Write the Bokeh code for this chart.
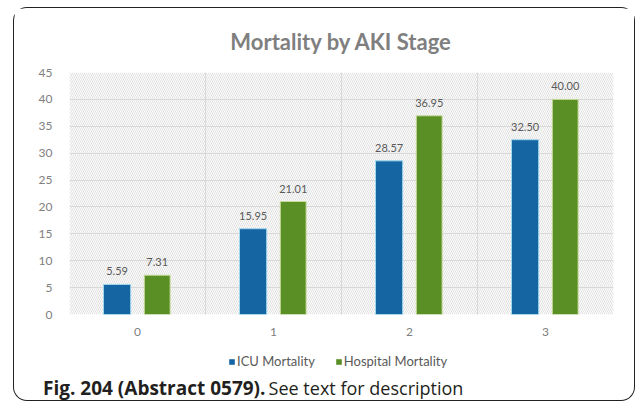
from bokeh.plotting import figure
from bokeh.layouts import column
from bokeh.models import (ColumnDataSource, Range1d, FixedTicker, LabelSet, Div,
                          Legend, LegendItem, BoxAnnotation)
from bokeh.core.properties import value
from bokeh.transform import dodge
from bokeh.embed import file_html
from bokeh.resources import INLINE

stages = [0, 1, 2, 3]
stage_labels = ["0", "1", "2", "3"]
icu_mortality = [5.59, 15.95, 28.57, 32.50]
hospital_mortality = [7.31, 21.01, 36.95, 40.00]
y_ticks = [0, 5, 10, 15, 20, 25, 30, 35, 40, 45]
series_names = ["ICU Mortality", "Hospital Mortality"]
caption_bold = "Fig. 204 (Abstract 0579)."
caption_text = "See text for description"

ICU_COLOR, ICU_EDGE = "#1665a3", "#9fd8ee"
HOSP_COLOR, HOSP_EDGE = "#5a8f26", "#c8dc9c"

src = ColumnDataSource(dict(
    x=stages,
    icu=icu_mortality,
    hosp=hospital_mortality,
    icu_txt=["%.2f" % v for v in icu_mortality],
    hosp_txt=["%.2f" % v for v in hospital_mortality],
))

FONT = "Lato"
W = 622
BORDER = "1.5px solid #222"
SHIFT = "translate(13px, 7px)"

p = figure(width=W, height=340, output_backend="svg", toolbar_location=None,
           x_range=Range1d(-0.5, 3.5), y_range=Range1d(0, 45),
           min_border_left=55, min_border_right=23, min_border_top=62,
           min_border_bottom=34, title="Mortality by AKI Stage")
p.styles = {"border": BORDER, "border-bottom": "none",
            "border-radius": "14px 14px 0 0", "transform": SHIFT}
p.outline_line_color = None

p.title.align = "center"
p.title.text_font = FONT
p.title.text_font_size = "22px"
p.title.text_font_style = "bold"
p.title.text_color = "#7f7f7f"
p.title.standoff = 35

# hatched plot background
p.add_layout(BoxAnnotation(fill_alpha=0, line_color=None, hatch_pattern="\\",
                           hatch_color="#d8d8d8", hatch_scale=4, hatch_weight=0.8,
                           level="underlay"))

p.xgrid.ticker = FixedTicker(ticks=[-0.5, 0.5, 1.5, 2.5, 3.5])
p.ygrid.ticker = FixedTicker(ticks=y_ticks)
for g in (p.xgrid, p.ygrid):
    g.grid_line_color = "#d9d9d9"
    g.grid_line_width = 1

p.xaxis.ticker = FixedTicker(ticks=stages)
p.xaxis.major_label_overrides = {s: l for s, l in zip(stages, stage_labels)}
p.yaxis.ticker = FixedTicker(ticks=y_ticks)
for ax in (p.xaxis, p.yaxis):
    ax.axis_line_color = None
    ax.major_tick_line_color = None
    ax.minor_tick_line_color = None
    ax.major_label_text_font = FONT
    ax.major_label_text_font_size = "12px"
    ax.major_label_text_color = "#808080"
p.yaxis.major_label_standoff = 11
p.xaxis.major_label_standoff = 7

p.vbar(x=dodge("x", -0.15, range=p.x_range), top="icu", width=0.2, source=src,
       fill_color=ICU_COLOR, line_color=ICU_EDGE, line_width=1)
p.vbar(x=dodge("x", 0.145, range=p.x_range), top="hosp", width=0.19, source=src,
       fill_color=HOSP_COLOR, line_color=HOSP_EDGE, line_width=1)

for col, txt, off in (("icu", "icu_txt", -0.15), ("hosp", "hosp_txt", 0.145)):
    p.add_layout(LabelSet(x=dodge("x", off, range=p.x_range), y=col, text=txt,
                          source=src, text_align="center", text_baseline="alphabetic",
                          y_offset=9, text_font=value(FONT), text_font_size="11px",
                          text_color="#595959"))

# footer row holding the legend
foot = figure(width=W, height=28, output_backend="svg", toolbar_location=None,
              x_range=Range1d(-0.5, 3.5), y_range=Range1d(0, 45), min_border=0,
              x_axis_type=None, y_axis_type=None)
foot.styles = {"border-left": BORDER, "border-right": BORDER, "transform": SHIFT}
foot.outline_line_color = None
foot.xgrid.visible = False
foot.ygrid.visible = False

k1 = foot.vbar(x="x", top="icu", width=0.2, source=src, fill_color=ICU_COLOR,
               line_color=None, visible=False)
k2 = foot.vbar(x="x", top="hosp", width=0.2, source=src, fill_color=HOSP_COLOR,
               line_color=None, visible=False)

legend = Legend(items=[LegendItem(label=series_names[0], renderers=[k1]),
                       LegendItem(label=series_names[1], renderers=[k2])],
                orientation="horizontal", location=(159, 6),
                border_line_color=None, background_fill_alpha=0,
                inactive_fill_alpha=0,
                glyph_width=7, glyph_height=7, label_standoff=2, spacing=20,
                padding=0, margin=0, label_text_font=FONT,
                label_text_font_size="13px", label_text_color="#595959")
foot.add_layout(legend, "center")

caption = Div(
    text=('<div style="font-family:\'Open Sans\';color:#231f20;line-height:22px;'
          'padding:2px 0 0 16px;text-indent:13px;white-space:nowrap;">'
          '<span style="font-weight:bold;font-size:19px;">%s</span> '
          '<span style="font-size:18px;">%s</span></div>') % (caption_bold, caption_text),
    width=W, height=26, margin=0,
    styles={"border": BORDER, "border-top": "none",
            "border-radius": "0 0 14px 14px", "transform": SHIFT,
            "box-sizing": "border-box"})

layout = column(p, foot, caption, spacing=0)
open("out.html", "w").write(file_html(layout, INLINE))
